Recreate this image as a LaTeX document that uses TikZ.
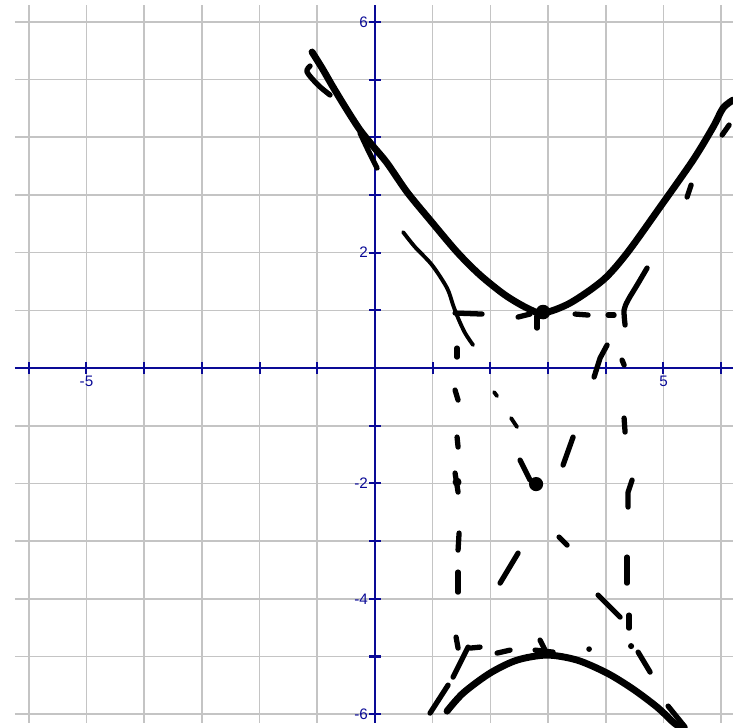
\documentclass[tikz,border=0pt]{standalone}
\usepackage{fontspec}
\setmainfont{Liberation Sans}
\usepackage{tikz}
\definecolor{gridgray}{RGB}{196,196,196}
\definecolor{axisblue}{RGB}{10,10,150}
\tikzstyle{gridline} = [draw=gridgray, line width=0.8pt]
\tikzstyle{axisline} = [draw=axisblue, line width=1pt]
\tikzstyle{ticklabel} = [text=axisblue, font=\fontsize{7.5}{9}\selectfont, inner sep=1pt]
\tikzstyle{pen} = [black, line width=3.4pt, line cap=round, line join=round]
\tikzstyle{dashpen} = [black, line width=2.6pt, line cap=round, line join=round]
\tikzstyle{thinpen} = [black, line width=1.9pt, line cap=round, line join=round]

\begin{document}
\begin{tikzpicture}
    \useasboundingbox (-6.499,-6.222) rectangle (6.205,6.378);
    % grid and axes
    \draw [gridline, step=1] (-6.24,-6.15) grid (6.205,6.29);
    \draw [axisline] (-6.24,0) -- (6.205,0);
    \draw [axisline] (0,-6.15) -- (0,6.29);
    \foreach \t in {-6,...,-1,1,2,...,6} {
        \draw [axisline] (\t,-0.1) -- (\t,0.1);
        \draw [axisline] (-0.1,\t) -- (0.1,\t);
    }
    \node (xlabmfive) [ticklabel, below] at (-5,-0.1) {-5};
    \node (xlabfive) [ticklabel, below] at (5,-0.1) {5};
    \foreach \t/\s in {6/six, 2/two, -2/mtwo, -4/mfour, -6/msix}
        \node (ylab\s) [ticklabel, left] at (-0.08,\t) {\t};

    % hand drawing, in picture pixels
    \begin{scope}[shift={(-6.499cm,6.378cm)}, x=0.017331cm, y=-0.017331cm]
    % upper branch
    \draw [pen] plot [smooth] coordinates {(312,52) (322,68) (333,87) (347,110) (360,130) (372,145) (387,163) (407,192) (430,220) (457,252) (480,275) (505,295) (527,308) (543,313) (570,303) (603,280) (627,253) (660,207) (693,160) (713,127) (723,108) (733,100)};
    \draw [dashpen] plot [smooth] coordinates {(310,66) (307,72) (318,85) (330,95)};
    \draw [dashpen] plot [smooth] coordinates {(360,133) (368,150) (377,168)};
    \draw [dashpen] (722,135) -- (729,125);
    \draw [dashpen] (687,197) -- (691,185);
    \fill (543,312) circle (3.6pt);
    \draw [dashpen] (537,316) -- (537,328);
    % lower branch
    \draw [pen] plot [smooth] coordinates {(447,711) (463,693) (490,673) (517,660) (547,655) (577,660) (607,673) (633,689) (657,707) (673,722) (680,727)};
    \draw [dashpen] (668,706) -- (685,727);
    \draw [dashpen] (448,685) -- (430,713);
    % asymptotes
    \draw [thinpen] plot [smooth] coordinates {(403,232) (415,247) (432,265) (447,288) (453,305) (458,318) (465,333) (473,345)};
    \draw [dashpen] plot [smooth] coordinates {(647,268) (637,285) (628,300) (624,310) (625,325)};
    \draw [dashpen] (607,345) -- (600,358) -- (594,377);
    \draw [thinpen] (494,392) -- (497,396);
    \draw [thinpen] (511,418) -- (517,427);
    \draw [dashpen] (573,437) -- (563,465);
    \draw [dashpen] (520,460) -- (530,480);
    \fill (536,484) circle (3.5pt);
    \draw [dashpen] (518,553) -- (500,583);
    \draw [dashpen] (559,537) -- (567,545);
    \draw [dashpen] (598,595) -- (620,617);
    \draw [dashpen] (638,652) -- (650,672);
    \draw [dashpen] (468,647) -- (453,677);
    % rectangle, top and bottom
    \draw [dashpen] (455,313) -- (482,314);
    \draw [dashpen] (518,317) -- (530,314);
    \draw [dashpen] (575,314) -- (588,315);
    \draw [dashpen] (608,315) -- (614,315);
    \draw [dashpen] (470,648) -- (480,647);
    \draw [dashpen] (497,653) -- (510,650);
    \draw [dashpen] (540,640) -- (545,650);
    \draw [dashpen] (535,650) -- (553,652);
    \fill (589,649) circle (1.4pt);
    % rectangle, left side
    \draw [dashpen] (457,348) -- (457,357);
    \draw [dashpen] (455,390) -- (458,400);
    \draw [dashpen] (457,437) -- (458,447);
    \draw [dashpen] (455,473) -- (458,492);
    \fill (457,482) circle (2.2pt);
    \draw [dashpen] (459,533) -- (458,550);
    \draw [dashpen] (458,572) -- (458,592);
    \draw [dashpen] (456,637) -- (458,648);
    % rectangle, right side
    \draw [dashpen] (622,360) -- (624,365);
    \draw [dashpen] (624,418) -- (625,432);
    \draw [dashpen] (632,480) -- (628,492) -- (628,507);
    \draw [dashpen] (627,557) -- (627,583);
    \draw [dashpen] (629,615) -- (629,628);
    \fill (631,646) circle (1.5pt);
    \end{scope}
\end{tikzpicture}
\end{document}
